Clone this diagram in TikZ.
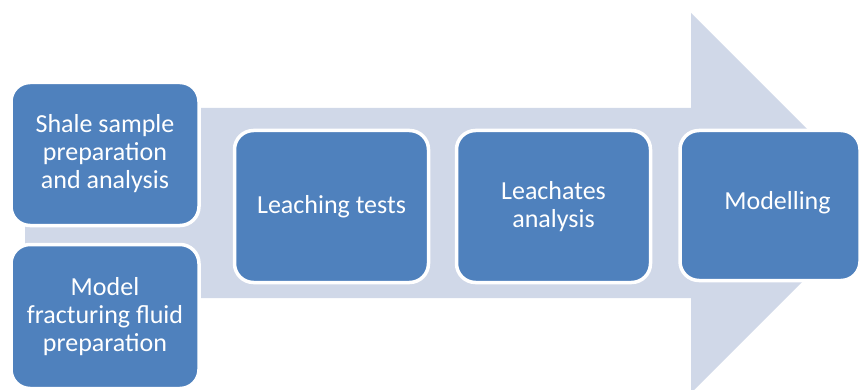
\documentclass[tikz,border=0pt]{standalone}
\usepackage{fontspec}
\setmainfont{Carlito}
\definecolor{boxblue}{HTML}{4F81BD}
\definecolor{arrowgray}{HTML}{D0D8E8}
\tikzset{
  stepnode/.style={draw=white, line width=3.5pt, fill=boxblue, rounded corners=19pt,
    inner sep=0pt, align=center, text=white,
    font=\fontsize{26}{28}\selectfont},
  labelnode/.style={inner sep=0pt, align=center, text=white, font=\fontsize{26}{28}\selectfont}
}
\begin{document}
\begin{tikzpicture}[x=1pt,y=-1pt]
\useasboundingbox (0,0) rectangle (861,390);
\clip (0,0) rectangle (861,390);
\fill[white] (0,0) rectangle (861,390);
\fill[arrowgray] (25,108) -- (691,108) -- (691,13) -- (881,203) -- (691,393) -- (691,298) -- (25,298) -- cycle;
\node[stepnode, minimum width=188pt, minimum height=143pt] (b1) at (105,154) {Shale sample\\preparation\\and analysis};
\node[stepnode, minimum width=188pt, minimum height=144pt] (b2) at (105,316.5) {Model\\fracturing fluid\\preparation};
\node[stepnode, minimum width=194pt, minimum height=152pt] (b3) at (331.5,206.5) {Leaching tests};
\node[stepnode, minimum width=194pt, minimum height=152pt] (b4) at (553.5,206.5) {Leachates\\analysis};
\node[stepnode, minimum width=180pt, minimum height=150pt] (b5) at (770,205.5) {};
\node[labelnode] (t5) at (777.5,203) {Modelling};
\end{tikzpicture}
\end{document}
